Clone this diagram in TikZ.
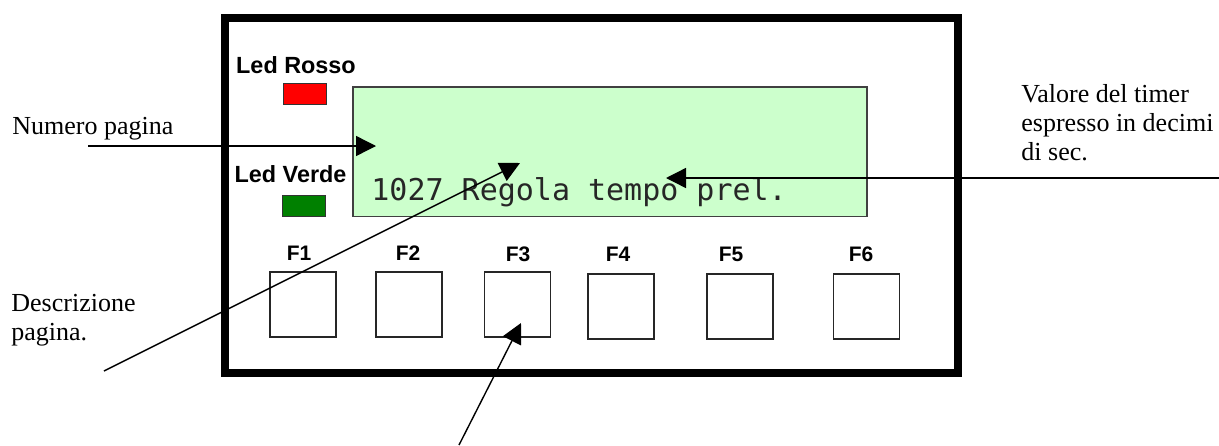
\documentclass[tikz,border=0pt]{standalone}
\usepackage{fontspec}
\setmainfont{Liberation Serif}
\newfontfamily\panelfont{Liberation Sans}
\newfontfamily\lcdfont{DejaVu Sans Mono}
\usetikzlibrary{arrows.meta}
\definecolor{lcdbg}{HTML}{CCFFCC}
\definecolor{ledred}{HTML}{FF0000}
\definecolor{ledgreen}{HTML}{008000}

\tikzset{
  panelbox/.style={draw, line width=4pt, minimum width=366.5pt, minimum height=177.5pt, inner sep=0pt},
  lcdbox/.style={draw=black!75, fill=lcdbg, line width=0.6pt, minimum width=257pt, minimum height=64.75pt, inner sep=0pt},
  keybox/.style={draw=black!85, line width=0.75pt, minimum width=33pt, minimum height=32.5pt, inner sep=0pt},
  keylabel/.style={font=\panelfont\bfseries\fontsize{10.5}{12}\selectfont, inner sep=0pt},
  ledbox/.style={draw=black!80, line width=0.5pt, minimum width=21.5pt, minimum height=10.5pt, inner sep=0pt},
  ledlabel/.style={font=\panelfont\bfseries\fontsize{11.7}{13}\selectfont, inner sep=0pt},
  note/.style={font=\fontsize{13}{14.5}\selectfont, inner sep=0pt, align=left, anchor=base west},
  pointer/.style={line width=0.7pt, -{Triangle[length=10pt,width=10pt]}}
}

\begin{document}
\begin{tikzpicture}[x=0.5pt, y=-0.5pt]
  \useasboundingbox (0,0) rectangle (1219,445);

  % panel and display
  \node [panelbox] (panel) at (591.5,195) {};
  \node [lcdbox] (lcd) at (610,151.75) {};
  \node [anchor=base west, inner sep=0pt, text=black!85, font=\lcdfont\fontsize{15}{16}\selectfont] (lcdtext) at (371,200) {1027 Regola tempo prel.};

  % leds
  \node [ledlabel] (rossolbl) at (296,65.5) {Led Rosso};
  \node [ledbox, fill=ledred] (rosso) at (304.5,93.5) {};
  \node [ledlabel] (verdelbl) at (290.5,174.5) {Led Verde};
  \node [ledbox, fill=ledgreen] (verde) at (304,206) {};

  % function keys
  \node [keylabel] (f1lbl) at (299,253) {F1};
  \node [keylabel] (f2lbl) at (408,253) {F2};
  \node [keylabel] (f3lbl) at (518,254.5) {F3};
  \node [keylabel] (f4lbl) at (618,254) {F4};
  \node [keylabel] (f5lbl) at (731,254) {F5};
  \node [keylabel] (f6lbl) at (861,254) {F6};
  \node [keybox] (f1) at (303,304.5) {};
  \node [keybox] (f2) at (409,304.5) {};
  \node [keybox] (f3) at (517.5,304.5) {};
  \node [keybox] (f4) at (621,306.5) {};
  \node [keybox] (f5) at (740,306.5) {};
  \node [keybox] (f6) at (866.5,306.5) {};

  % notes (base = last line)
  \node [note] (numero) at (12,134) {Numero pagina};
  \node [note] (descr) at (11,340) {Descrizione\\pagina.};
  \node [note] (timer) at (1021,160) {Valore del timer\\espresso in decimi\\di sec.};

  % pointers
  \coordinate (numfrom) at (88,146);
  \coordinate (numto) at (376,146);
  \coordinate (descrfrom) at (104,371);
  \coordinate (descrto) at (520,163);
  \coordinate (keyfrom) at (459,445);
  \coordinate (keyto) at (521,323);
  \coordinate (timerfrom) at (1219,178);
  \coordinate (timerto) at (666,178);
  \draw [pointer] (numfrom) -- (numto);
  \draw [pointer] (descrfrom) -- (descrto);
  \draw [pointer] (keyfrom) -- (keyto);
  \draw [pointer] (timerfrom) -- (timerto);
\end{tikzpicture}
\end{document}
